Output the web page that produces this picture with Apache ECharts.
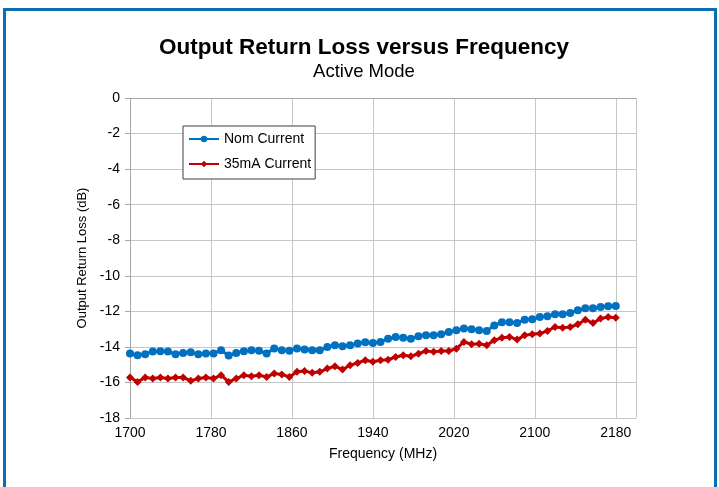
<!DOCTYPE html>
<html>
<head>
<meta charset="utf-8">
<script src="https://cdn.jsdelivr.net/npm/echarts@6/dist/echarts.min.js"></script>
<style>
  html, body { margin: 0; padding: 0; background: #fff; overflow: hidden; }
  .frame { position: absolute; left: 3px; top: 8px; width: 708px; height: 600px;
           border: 3px solid #0B6FAF; border-bottom: none; }
  .box { position: absolute; left: 0; top: 0; width: 719px; height: 487px; }
</style>
</head>
<body>
<div class="frame"></div>
<div class="box" id="box"></div>
<script>
// frequency points (MHz)
const freqs = [
  1700, 1707.5, 1715, 1722.5, 1730, 1737.5, 1745, 1752.5, 1760, 1767.5,
  1775, 1782.5, 1790, 1797.5, 1805, 1812.5, 1820, 1827.5, 1835, 1842.5,
  1850, 1857.5, 1865, 1872.5, 1880, 1887.5, 1895, 1902.5, 1910, 1917.5,
  1925, 1932.5, 1940, 1947.5, 1955, 1962.5, 1970, 1977.5, 1985, 1992.5,
  2000, 2007.5, 2015, 2022.5, 2030, 2037.5, 2045, 2052.5, 2060, 2067.5,
  2075, 2082.5, 2090, 2097.5, 2105, 2112.5, 2120, 2127.5, 2135, 2142.5,
  2150, 2157.5, 2165, 2172.5, 2180
];

const nomCurrent = [
  -14.37, -14.47, -14.41, -14.26, -14.24, -14.26, -14.41, -14.34, -14.30, -14.41,
  -14.37, -14.37, -14.19, -14.49, -14.34, -14.24, -14.19, -14.22, -14.37, -14.09,
  -14.19, -14.22, -14.09, -14.15, -14.19, -14.19, -14.00, -13.91, -13.96, -13.91,
  -13.81, -13.74, -13.78, -13.72, -13.54, -13.44, -13.48, -13.54, -13.40, -13.35,
  -13.35, -13.29, -13.16, -13.07, -12.97, -13.01, -13.07, -13.10, -12.79, -12.62,
  -12.62, -12.66, -12.47, -12.45, -12.32, -12.28, -12.17, -12.17, -12.09, -11.94,
  -11.83, -11.83, -11.76, -11.72, -11.70
];

const current35mA = [
  -15.72, -15.97, -15.72, -15.78, -15.72, -15.78, -15.72, -15.72, -15.91, -15.78,
  -15.72, -15.78, -15.59, -15.97, -15.78, -15.59, -15.65, -15.59, -15.69, -15.50,
  -15.55, -15.69, -15.40, -15.35, -15.46, -15.40, -15.22, -15.09, -15.27, -15.03,
  -14.90, -14.75, -14.84, -14.75, -14.72, -14.57, -14.47, -14.53, -14.38, -14.23,
  -14.28, -14.23, -14.23, -14.10, -13.72, -13.85, -13.82, -13.91, -13.63, -13.48,
  -13.44, -13.59, -13.35, -13.29, -13.25, -13.10, -12.88, -12.92, -12.88, -12.73,
  -12.47, -12.66, -12.41, -12.32, -12.36
];

const seriesNames = ['Nom Current', '35mA Current'];

const pairs = (ys) => freqs.map((f, i) => [f, ys[i]]);

let myecharts = echarts.init(document.getElementById('box'));
let options = {
  animation: false,
  textStyle: { fontFamily: 'Liberation Sans, Arial, sans-serif' },
  title: {
    text: 'Output Return Loss versus Frequency',
    subtext: 'Active Mode',
    left: 359,
    textAlign: 'center',
    top: 31,
    itemGap: 3,
    textStyle: { fontSize: 22.5, fontWeight: 'bold', color: '#000' },
    subtextStyle: { fontSize: 18.5, color: '#000' }
  },
  legend: {
    orient: 'vertical',
    left: 183,
    top: 126,
    padding: [6, 4, 8, 5],
    itemGap: 11,
    itemWidth: 30,
    itemHeight: 8,
    borderColor: '#404040',
    borderWidth: 1,
    backgroundColor: '#fff',
    textStyle: { fontSize: 14, color: '#000' },
    data: seriesNames
  },
  grid: { left: 130, right: 83, top: 98, bottom: 69 },
  xAxis: {
    type: 'value',
    min: 1700,
    max: 2200,
    interval: 80,
    name: 'Frequency (MHz)',
    nameLocation: 'middle',
    nameGap: 29,
    nameTextStyle: { fontSize: 14, color: '#000' },
    axisLine: { lineStyle: { color: '#a6a6a6' } },
    axisTick: { show: false },
    axisLabel: {
      fontSize: 14, color: '#000', margin: 8,
      formatter: (v) => (v === 2200 ? '' : v)
    },
    splitLine: { lineStyle: { color: '#c6c6c6' } }
  },
  yAxis: {
    type: 'value',
    min: -18,
    max: 0,
    interval: 2,
    name: 'Output Return Loss (dB)',
    nameLocation: 'middle',
    nameGap: 33,
    nameTextStyle: { fontSize: 13, color: '#000' },
    axisLine: { show: true, lineStyle: { color: '#a6a6a6' } },
    axisTick: { show: true, length: 5, lineStyle: { color: '#a6a6a6' } },
    axisLabel: { fontSize: 14, color: '#000', margin: 10 },
    splitLine: { lineStyle: { color: '#c6c6c6' } }
  },
  series: [
    {
      name: seriesNames[0],
      type: 'line',
      data: pairs(nomCurrent),
      symbol: 'circle',
      symbolSize: 8,
      itemStyle: { color: '#0070C0' },
      lineStyle: { color: '#0070C0', width: 3 }
    },
    {
      name: seriesNames[1],
      type: 'line',
      data: pairs(current35mA),
      symbol: 'diamond',
      symbolSize: 8,
      itemStyle: { color: '#C00000' },
      lineStyle: { color: '#C00000', width: 3 }
    }
  ]
};
myecharts.setOption(options);
window.onresize = function () {
  myecharts.resize();
};
</script>
</body>
</html>
